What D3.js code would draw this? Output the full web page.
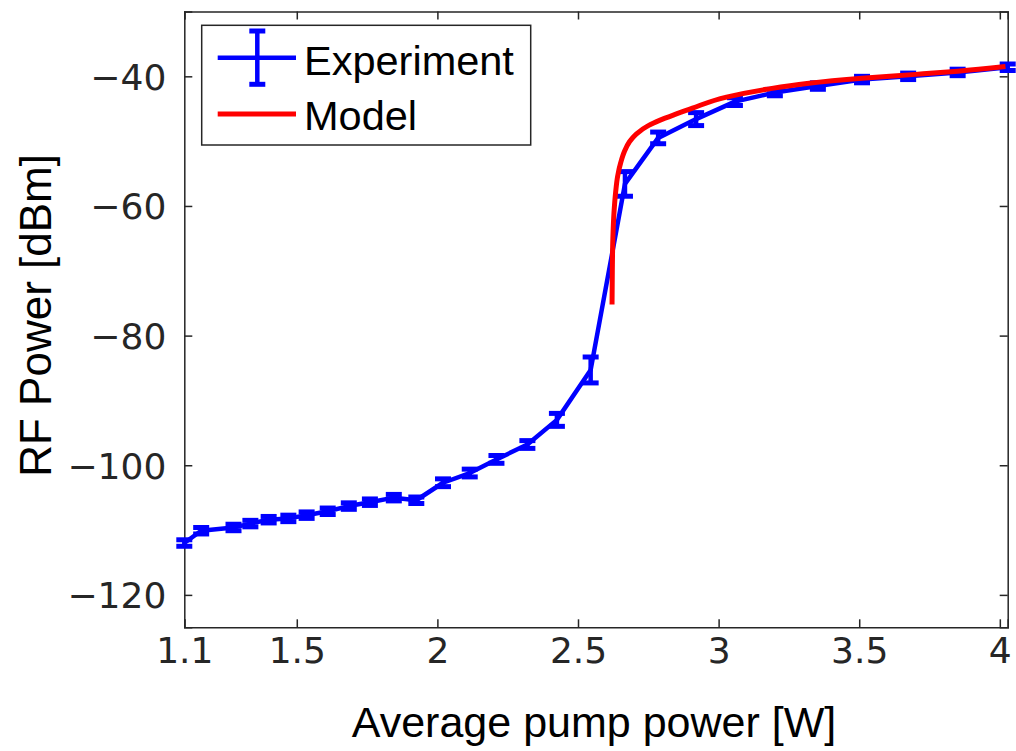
<!DOCTYPE html>
<html>
<head>
<meta charset="utf-8">
<script src="https://cdn.jsdelivr.net/npm/d3@7"></script>
<style>
    body { margin: 0; background: #fff; }
    svg { display: block; }
</style>
</head>
<body>
<div id="chart"></div>
<script>
// Experiment (blue, with error bars)
const pumpPower = [1.1, 1.16, 1.275, 1.335, 1.40, 1.47, 1.535, 1.61, 1.685, 1.76, 1.845, 1.925,
    2.02, 2.115, 2.21, 2.32, 2.425, 2.545, 2.667, 2.785, 2.92, 3.058, 3.2, 3.353, 3.51, 3.674, 3.85, 4.028];
const rfPower = [-112.0, -110.1, -109.6, -109.0, -108.4, -108.2, -107.7, -107.1, -106.3, -105.7, -105.0, -105.4,
    -102.7, -101.2, -99.1, -96.8, -93.0, -85.3, -56.6, -49.5, -46.6, -43.9, -42.5, -41.5, -40.5, -40.0, -39.4, -38.6];
const rfError = [0.5, 0.5, 0.5, 0.5, 0.5, 0.5, 0.5, 0.5, 0.5, 0.5, 0.5, 0.5,
    0.6, 0.6, 0.6, 0.6, 1.0, 2.0, 1.9, 0.9, 1.0, 0.6, 0.5, 0.5, 0.5, 0.5, 0.5, 0.5];

// Model (red)
const modelPower = [2.621, 2.622, 2.624, 2.628, 2.634, 2.641, 2.652, 2.665, 2.683, 2.707, 2.75, 2.79,
    2.85, 2.907, 3.028, 3.17, 3.314, 3.51, 3.7, 3.85, 4.02];
const modelRf = [-75.2, -70, -65, -61, -57.8, -55.4, -53.3, -51.6, -50.1, -48.9, -47.6, -46.8,
    -45.8, -44.9, -43.2, -42.0, -41.1, -40.3, -39.7, -39.2, -38.5];

const xTicks = [1.1, 1.5, 2, 2.5, 3, 3.5, 4];
const yTicks = [-120, -100, -80, -60, -40];

const W = 1016, H = 751;
const plotLeft = 184.3, plotRight = 1007.7, plotTop = 11.5, plotBottom = 627.3;
const axisColor = '#262626';

const svg = d3.select('#chart').append('svg')
    .attr('width', W)
    .attr('height', H);

const x = d3.scaleLinear().domain([1.1, 4.028]).range([plotLeft, plotRight]);
const y = d3.scaleLinear().domain([-125, -30]).range([plotBottom, plotTop]);

// Axes with inward ticks on all four sides
const fmtX = d => String(d);
const fmtY = d => d < 0 ? '\u2212' + Math.abs(d) : String(d);

const xAxis = svg.append('g')
    .attr('transform', `translate(0,${plotBottom})`)
    .call(d3.axisBottom(x).tickValues(xTicks).tickSize(-8).tickPadding(10).tickFormat(fmtX));
const yAxis = svg.append('g')
    .attr('transform', `translate(${plotLeft},0)`)
    .call(d3.axisLeft(y).tickValues(yTicks).tickSize(-8).tickPadding(18).tickFormat(fmtY));
const xTop = svg.append('g')
    .attr('transform', `translate(0,${plotTop})`)
    .call(d3.axisTop(x).tickValues(xTicks).tickSize(-8).tickFormat(''));
const yRight = svg.append('g')
    .attr('transform', `translate(${plotRight},0)`)
    .call(d3.axisRight(y).tickValues(yTicks).tickSize(-8).tickFormat(''));

[xAxis, yAxis, xTop, yRight].forEach(g => {
    g.select('.domain').attr('stroke', axisColor).attr('stroke-width', 1.5);
    g.selectAll('.tick line').attr('stroke', axisColor).attr('stroke-width', 1.5);
    g.selectAll('.tick text')
        .attr('fill', axisColor)
        .style('font-family', '"DejaVu Sans", sans-serif')
        .style('font-size', '36px');
});
xAxis.selectAll('.tick text').attr('dy', '0.71em');
yAxis.selectAll('.tick text').attr('dy', '0.36em');

// Axis labels
svg.append('text')
    .attr('x', (plotLeft + plotRight) / 2 - 2)
    .attr('y', 737)
    .attr('text-anchor', 'middle')
    .style('font-family', '"Liberation Sans", Arial, sans-serif')
    .style('font-size', '43px')
    .attr('fill', '#000')
    .text('Average pump power [W]');

svg.append('text')
    .attr('transform', `translate(51,${(plotTop + plotBottom) / 2 - 4}) rotate(-90)`)
    .attr('text-anchor', 'middle')
    .style('font-family', '"Liberation Sans", Arial, sans-serif')
    .style('font-size', '44px')
    .attr('fill', '#000')
    .text('RF Power [dBm]');

// Experiment line
const expData = pumpPower.map((p, i) => ({ p, v: rfPower[i], e: rfError[i] }));

svg.append('path')
    .datum(expData)
    .attr('fill', 'none')
    .attr('stroke', '#0000ff')
    .attr('stroke-width', 4.5)
    .attr('stroke-linejoin', 'round')
    .attr('d', d3.line().x(d => x(d.p)).y(d => y(d.v)));

// Error bars
const bars = svg.append('g').attr('stroke', '#0000ff');
bars.selectAll('line.err')
    .data(expData)
    .join('line')
    .attr('class', 'err')
    .attr('x1', d => x(d.p)).attr('x2', d => x(d.p))
    .attr('y1', d => y(d.v - d.e)).attr('y2', d => y(d.v + d.e))
    .attr('stroke-width', 4.5);
const capW = 8;
['lo', 'hi'].forEach(k => {
    bars.selectAll('line.cap-' + k)
        .data(expData)
        .join('line')
        .attr('class', 'cap-' + k)
        .attr('x1', d => x(d.p) - capW).attr('x2', d => x(d.p) + capW)
        .attr('y1', d => y(k === 'lo' ? d.v - d.e : d.v + d.e))
        .attr('y2', d => y(k === 'lo' ? d.v - d.e : d.v + d.e))
        .attr('stroke-width', 5);
});

// Model curve (clipped to plot area)
svg.append('clipPath').attr('id', 'plot-clip')
    .append('rect')
    .attr('x', plotLeft).attr('y', plotTop)
    .attr('width', plotRight - plotLeft).attr('height', plotBottom - plotTop);

svg.append('path')
    .datum(modelPower.map((p, i) => ({ p, v: modelRf[i] })))
    .attr('clip-path', 'url(#plot-clip)')
    .attr('fill', 'none')
    .attr('stroke', '#ff0000')
    .attr('stroke-width', 5)
    .attr('stroke-linejoin', 'round')
    .attr('d', d3.line().curve(d3.curveMonotoneY).x(d => x(d.p)).y(d => y(d.v)));

// Legend
const legend = svg.append('g');
legend.append('rect')
    .attr('x', 201.7).attr('y', 25.3)
    .attr('width', 329).attr('height', 119.7)
    .attr('fill', '#fff')
    .attr('stroke', axisColor)
    .attr('stroke-width', 1.5);

legend.append('line')
    .attr('x1', 217.7).attr('x2', 296).attr('y1', 57.7).attr('y2', 57.7)
    .attr('stroke', '#0000ff').attr('stroke-width', 4.5);
legend.append('line')
    .attr('x1', 257.3).attr('x2', 257.3).attr('y1', 31).attr('y2', 84.3)
    .attr('stroke', '#0000ff').attr('stroke-width', 4.5);
[31, 84.3].forEach(cy => {
    legend.append('line')
        .attr('x1', 249.3).attr('x2', 265.3).attr('y1', cy).attr('y2', cy)
        .attr('stroke', '#0000ff').attr('stroke-width', 5);
});
legend.append('line')
    .attr('x1', 217.7).attr('x2', 296).attr('y1', 114).attr('y2', 114)
    .attr('stroke', '#ff0000').attr('stroke-width', 5);

legend.selectAll('text.lbl')
    .data([['Experiment', 75], ['Model', 130]])
    .join('text')
    .attr('class', 'lbl')
    .attr('x', 304)
    .attr('y', d => d[1])
    .style('font-family', '"Liberation Sans", Arial, sans-serif')
    .style('font-size', '41.5px')
    .attr('fill', '#000')
    .text(d => d[0]);
</script>
</body>
</html>
